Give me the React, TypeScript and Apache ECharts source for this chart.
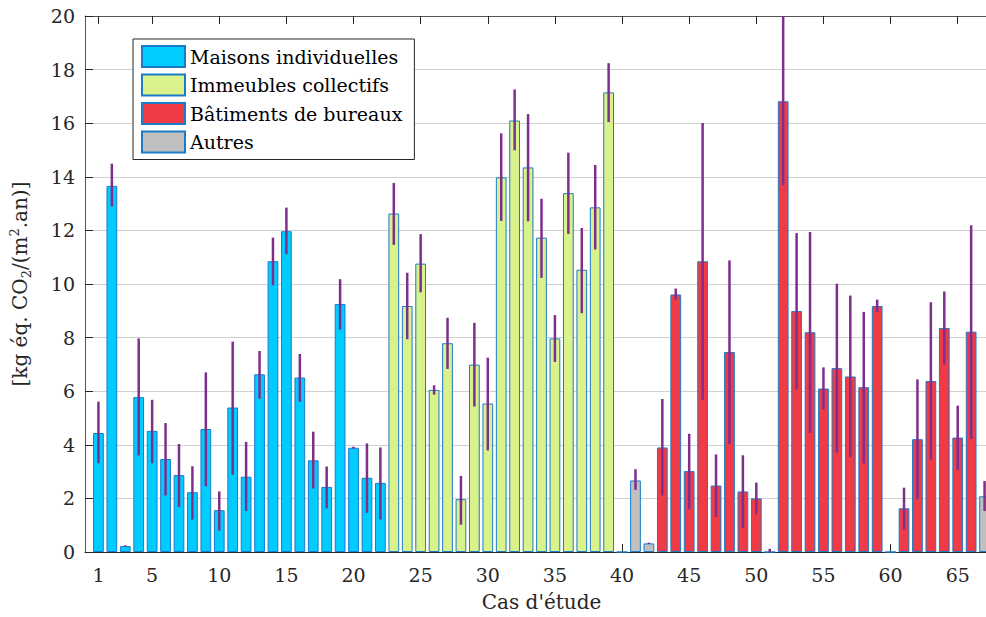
import React, { useEffect, useRef } from "react";
import * as echarts from "echarts";

// Case numbers 1..67
const values = [
  4.44, 13.66, 0.22, 5.78, 4.52, 3.47, 2.87, 2.23, 4.59, 1.56,
  5.39, 2.81, 6.63, 10.85, 11.97, 6.51, 3.42, 2.43, 9.25, 3.89,
  2.77, 2.58, 12.63, 9.18, 10.76, 6.05, 7.79, 1.97, 6.99, 5.54,
  13.98, 16.1, 14.35, 11.73, 7.97, 13.39, 10.53, 12.86, 17.15, 0,
  2.67, 0.32, 3.9, 9.61, 3.02, 10.85, 2.48, 7.46, 2.26, 2.0,
  0, 16.82, 8.99, 8.2, 6.1, 6.86, 6.55, 6.15, 9.18, 0,
  1.63, 4.21, 6.38, 8.36, 4.27, 8.22, 2.08,
];
const lower = [
  3.31, 12.89, 0.2, 3.6, 3.31, 2.11, 1.68, 1.21, 2.45, 0.8,
  2.88, 1.53, 5.72, 9.95, 11.11, 5.61, 2.37, 1.63, 8.3, 3.86,
  1.46, 1.21, 11.46, 7.94, 9.69, 5.87, 6.83, 1.02, 5.43, 3.79,
  12.35, 14.99, 12.34, 10.23, 7.09, 11.87, 8.91, 11.29, 16.04, 0,
  2.32, 0.3, 2.11, 9.42, 1.6, 5.68, 1.31, 4.03, 0.9, 1.41,
  0, 13.69, 6.07, 4.44, 5.32, 3.71, 3.54, 3.31, 8.96, 0,
  0.84, 1.97, 3.45, 6.99, 3.06, 4.22, 1.53,
];
const upper = [
  5.61, 14.49, 0.25, 7.97, 5.68, 4.81, 4.03, 3.2, 6.7, 2.26,
  7.85, 4.11, 7.5, 11.73, 12.85, 7.39, 4.49, 3.19, 10.18, 3.93,
  4.05, 3.9, 13.77, 10.42, 11.86, 6.22, 8.74, 2.84, 8.55, 7.25,
  15.62, 17.26, 16.34, 13.18, 8.84, 14.9, 12.09, 14.44, 18.24, 0,
  3.09, 0.35, 5.71, 9.83, 4.41, 16.01, 3.64, 10.88, 3.61, 2.59,
  0.12, 20.4, 11.9, 11.94, 6.89, 10.01, 9.57, 8.96, 9.42, 0,
  2.4, 6.44, 9.32, 9.72, 5.46, 12.19, 2.65,
];
// building type of each case: M maisons, I immeubles, B bureaux, A autres
const types = [
  "M", "M", "M", "M", "M", "M", "M", "M", "M", "M",
  "M", "M", "M", "M", "M", "M", "M", "M", "M", "M",
  "M", "M", "I", "I", "I", "I", "I", "I", "I", "I",
  "I", "I", "I", "I", "I", "I", "I", "I", "I", "A",
  "A", "A", "B", "B", "B", "B", "B", "B", "B", "B",
  "B", "B", "B", "B", "B", "B", "B", "B", "B", "B",
  "B", "B", "B", "B", "B", "B", "A",
];
const groupKeys = ["M", "I", "B", "A"];
const groupNames = ["Maisons individuelles", "Immeubles collectifs", "Bâtiments de bureaux", "Autres"];
const groupColors = ["#00CCFF", "#D9F28C", "#EE3B46", "#C0C0C0"];
const xTickLabels = [1, 5, 10, 15, 20, 25, 30, 35, 40, 45, 50, 55, 60, 65];
const yMin = 0;
const yMax = 20;
const yStep = 2;
const xMaxCat = 68;

const FONT = "DejaVu Serif";
const TXT = "#262626";

export default function App() {
  const ref = useRef<HTMLDivElement>(null);
  useEffect(() => {
    if (!ref.current) return;
    const chart = echarts.init(ref.current, null, { renderer: "svg" });
    const axisCats: string[] = [];
    for (let i = 0; i <= xMaxCat; i++) axisCats.push(String(i));
    const tickSet = new Set(xTickLabels.map(String));
    const showTick = (_i: number, v: string) => tickSet.has(v);

    const barSeries = groupKeys.map((k, gi) => ({
      name: groupNames[gi],
      type: "bar",
      xAxisIndex: 0,
      yAxisIndex: 0,
      barWidth: "80%",
      barGap: "-100%",
      itemStyle: { color: groupColors[gi], borderColor: "#1A7CC8", borderWidth: 1 },
      z: 2,
      data: values
        .map((v, i) => (types[i] === k ? [i + 1, v] : null))
        .filter((d) => d !== null),
    }));

    const errData = values.map((_v, i) => [i + 1, lower[i], upper[i]]);

    chart.setOption({
      animation: false,
      textStyle: { fontFamily: FONT },
      grid: { left: 85, right: 0, top: 16, bottom: 60, containLabel: false },
      legend: {
        orient: "vertical",
        left: 133,
        top: 39,
        itemWidth: 43,
        itemHeight: 21,
        itemGap: 5.5,
        padding: [6, 12, 6, 8],
        backgroundColor: "#ffffff",
        borderColor: "#262626",
        borderWidth: 1,
        borderRadius: 0,
        icon: "rect",
        textStyle: { fontFamily: FONT, fontSize: 19, lineHeight: 21, height: 21, color: "#000" },
        data: groupNames,
      },
      xAxis: [
        {
          type: "category",
          data: axisCats,
          boundaryGap: false,
          position: "bottom",
          axisLine: { show: true, lineStyle: { color: TXT, width: 1 } },
          axisTick: { show: true, inside: true, length: 8, interval: showTick, lineStyle: { color: TXT } },
          axisLabel: {
            show: true,
            interval: showTick,
            fontSize: 19,
            color: TXT,
            fontFamily: FONT,
            margin: 13,
          },
          splitLine: { show: false },
          name: "Cas d'étude",
          nameLocation: "middle",
          nameGap: 40,
          nameTextStyle: { fontSize: 20, color: TXT, fontFamily: FONT },
        },
        {
          type: "category",
          data: axisCats,
          boundaryGap: false,
          position: "top",
          axisLine: { show: true, lineStyle: { color: "#555", width: 1 } },
          axisTick: { show: true, inside: true, length: 8, interval: showTick, lineStyle: { color: TXT } },
          axisLabel: { show: false },
          splitLine: { show: false },
        },
      ],
      yAxis: {
        type: "value",
        min: yMin,
        max: yMax,
        interval: yStep,
        axisLine: { show: true, lineStyle: { color: "#555", width: 1 } },
        axisTick: { show: true, inside: true, length: 8, lineStyle: { color: TXT } },
        axisLabel: { fontSize: 19, color: TXT, fontFamily: FONT, margin: 10 },
        splitLine: { show: true, lineStyle: { color: "#d0d0d0", width: 1 } },
        name: "{a|[kg éq. CO}{sub|2}{a|/(m}{sup|2}{a|.an)]}",
        nameLocation: "middle",
        nameGap: 52,
        nameTextStyle: {
          fontSize: 20,
          color: TXT,
          fontFamily: FONT,
          rich: {
            a: { fontSize: 20, color: TXT, fontFamily: FONT },
            sub: { fontSize: 13, color: TXT, fontFamily: FONT, padding: [13, 0, 0, 0] },
            sup: { fontSize: 13, color: TXT, fontFamily: FONT, padding: [0, 0, 11, 0] },
          },
        },
      },
      series: [
        ...barSeries,
        {
          type: "custom",
          name: "err",
          xAxisIndex: 0,
          yAxisIndex: 0,
          z: 5,
          encode: { x: 0, y: [1, 2] },
          data: errData,
          renderItem: (_params: any, api: any) => {
            const x = api.value(0);
            const lo = Math.max(api.value(1), yMin);
            const hi = Math.min(api.value(2), yMax);
            if (hi <= lo) return null;
            const p1 = api.coord([x, lo]);
            const p2 = api.coord([x, hi]);
            return {
              type: "line",
              shape: { x1: p1[0], y1: p1[1], x2: p2[0], y2: p2[1] },
              style: { stroke: "#7E2F8E", lineWidth: 2.5 },
            };
          },
        },
      ],
    });
    return () => chart.dispose();
  }, []);
  return (
    <div
      style={{
        position: "fixed",
        left: 0,
        top: 0,
        width: 986,
        height: 617,
        overflow: "hidden",
        background: "#fff",
      }}
    >
      <div ref={ref} style={{ width: 998, height: 617 }} />
    </div>
  );
}
